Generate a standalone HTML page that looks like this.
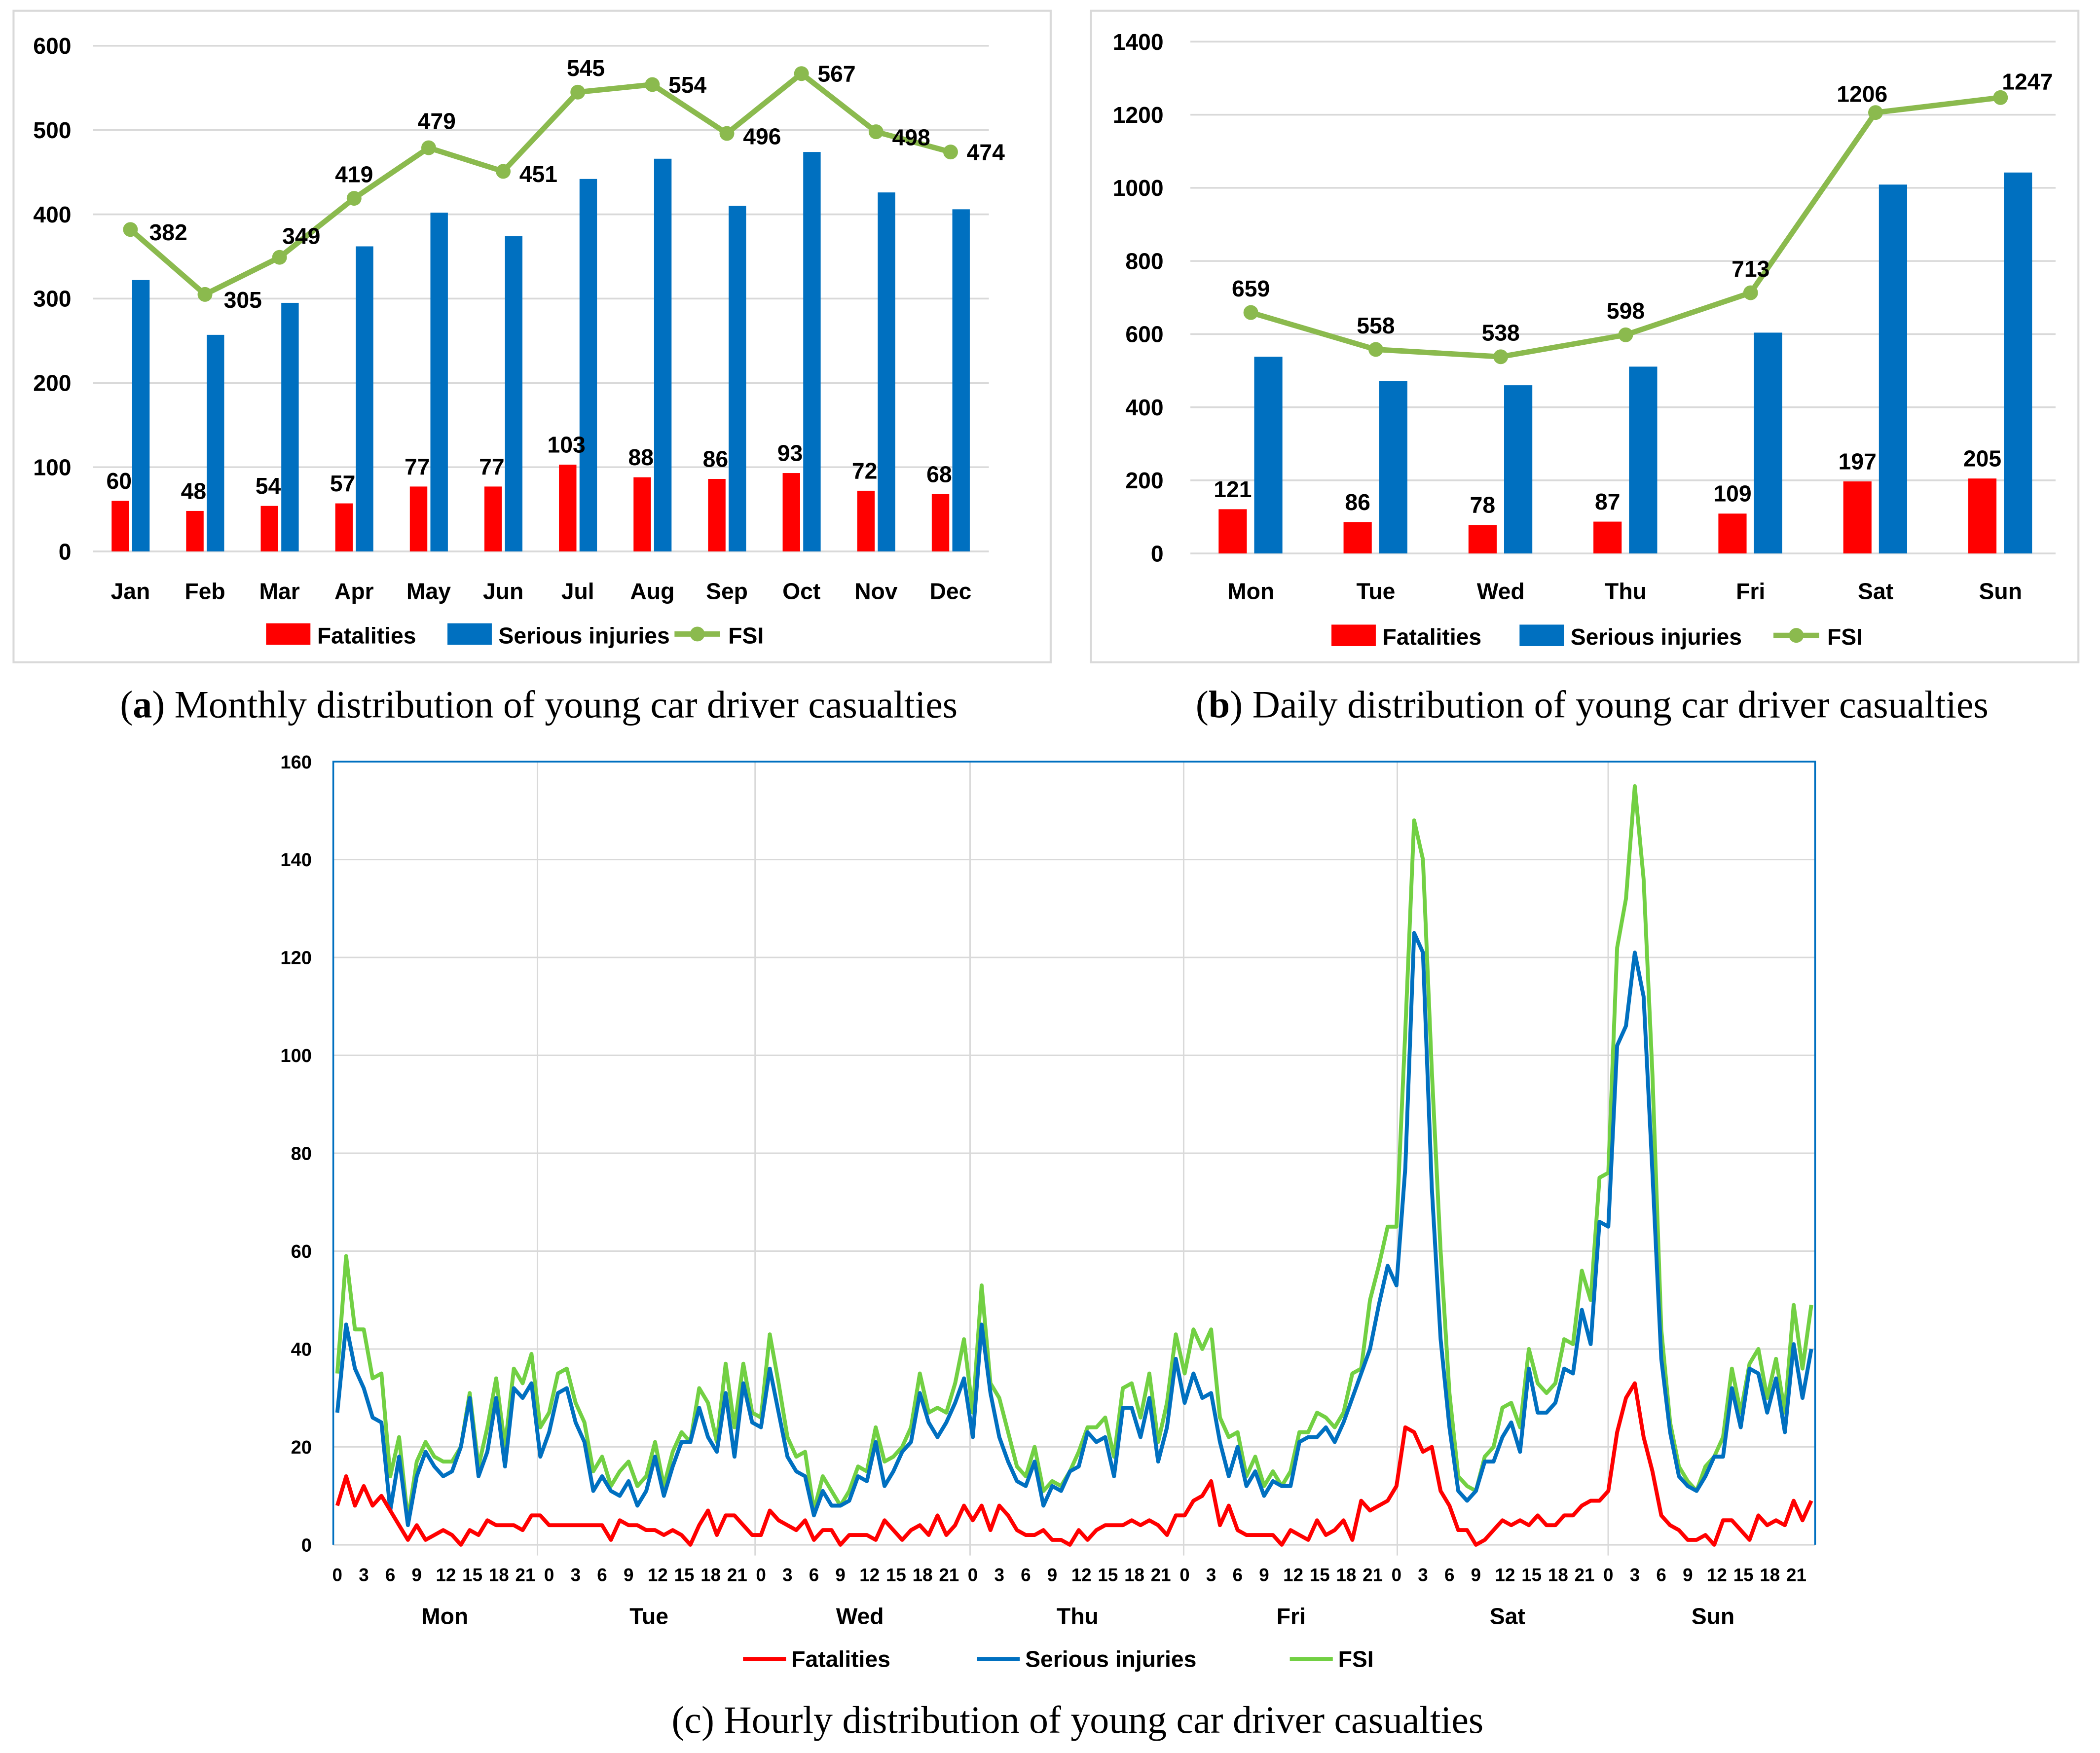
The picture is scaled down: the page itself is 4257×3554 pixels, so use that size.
<!DOCTYPE html>
<html><head><meta charset="utf-8">
<style>
html,body{margin:0;padding:0;background:#fff;}
svg{display:block;}
text{font-family:"Liberation Sans",sans-serif;font-weight:bold;fill:#000;}
.cap{font-family:"Liberation Serif",serif;font-weight:normal;font-size:28.6px;}
</style></head>
<body>
<svg id="root" width="4257" height="3554" viewBox="0 0 1563 1305" xmlns="http://www.w3.org/2000/svg">
<rect x="0" y="0" width="1563" height="1305" fill="#fff"/>
<rect x="10" y="8" width="772" height="485" fill="none" stroke="#d9d9d9" stroke-width="1.5"/>
<rect x="812" y="8" width="735" height="485" fill="none" stroke="#d9d9d9" stroke-width="1.5"/>
<g id="ga"></g>
<g id="gb"></g>
<g id="gc"></g>
<text class="cap" x="401" y="534" text-anchor="middle">(<tspan font-weight="bold">a</tspan>) Monthly distribution of young car driver casualties</text>
<text class="cap" x="1185" y="534" text-anchor="middle">(<tspan font-weight="bold">b</tspan>) Daily distribution of young car driver casualties</text>
<text class="cap" x="802" y="1290" text-anchor="middle">(c) Hourly distribution of young car driver casualties</text>
</svg>
<script>
// ---- Panel a data ----
const monthCats = ["Jan","Feb","Mar","Apr","May","Jun","Jul","Aug","Sep","Oct","Nov","Dec"];
const monthFatal = [60,48,54,57,77,77,103,88,86,93,72,68];
const monthSerious = [322,257,295,362,402,374,442,466,410,474,426,406];
const monthFSI = [382,305,349,419,479,451,545,554,496,567,498,474];
const monthTicks = [0,100,200,300,400,500,600];
// ---- Panel b data ----
const dayCats = ["Mon","Tue","Wed","Thu","Fri","Sat","Sun"];
const dayFatal = [121,86,78,87,109,197,205];
const daySerious = [538,472,460,511,604,1009,1042];
const dayFSI = [659,558,538,598,713,1206,1247];
const dayTicks = [0,200,400,600,800,1000,1200,1400];
// ---- Panel c data ----
const hourTicks = [0,20,40,60,80,100,120,140,160];
const hourLabels = [0,3,6,9,12,15,18,21];
const hourFatal = [8,14,8,12,8,10,7,4,1,4,1,2,3,2,0,3,2,5,4,4,4,3,6,6,4,4,4,4,4,4,4,1,5,4,4,3,3,2,3,2,0,4,7,2,6,6,4,2,2,7,
5,4,3,5,1,3,3,0,2,2,2,1,5,3,1,3,4,2,6,2,4,8,5,8,3,8,6,3,2,2,3,1,1,0,3,1,3,4,4,4,5,4,5,4,2,
6,6,9,10,13,4,8,3,2,2,2,2,0,3,2,1,5,2,3,5,1,9,7,8,9,12,24,23,19,20,11,8,3,3,0,1,3,5,4,5,4,6,4,4,6,6,8,9,9,11,23,
30,33,22,15,6,4,3,1,1,2,0,5,5,3,1,6,4,5,4,9,5,9];
const hourSerious = [27,45,36,32,26,25,7,18,4,14,19,16,14,15,20,30,14,19,30,16,32,30,33,18,23,31,32,25,21,11,14,11,10,13,8,11,18,10,16,21,21,28,22,19,31,18,33,25,24,36,
27,18,15,14,6,11,8,8,9,14,13,21,12,15,19,21,31,25,22,25,29,34,22,45,31,22,17,13,12,17,8,12,11,15,16,23,21,22,14,28,28,22,30,17,24,
38,29,35,30,31,21,14,20,12,15,10,13,12,12,21,22,22,24,21,25,30,35,40,49,57,53,77,125,121,73,42,24,11,9,11,17,17,22,25,19,36,27,27,29,36,35,48,41,66,65,102,
106,121,112,76,38,23,14,12,11,14,18,18,32,24,36,35,27,34,23,41,30,40];
const hourFSI = [35,59,44,44,34,35,14,22,5,17,21,18,17,17,20,31,16,24,34,20,36,33,39,24,27,35,36,29,25,15,18,12,15,17,12,14,21,12,19,23,21,32,29,21,37,24,37,27,26,43,
33,22,18,19,7,14,11,8,11,16,15,24,17,18,20,24,35,27,28,27,33,42,27,53,33,30,23,16,14,20,11,13,12,15,19,24,24,26,18,32,33,26,35,21,29,
43,35,44,40,44,26,22,23,14,18,12,15,12,15,23,23,27,26,24,27,35,36,50,57,65,65,105,148,140,97,60,31,14,12,11,18,20,28,29,24,40,33,31,33,42,41,56,50,75,76,122,
132,155,136,96,44,25,16,13,11,16,18,22,36,27,37,40,30,38,27,49,36,49];

const NS="http://www.w3.org/2000/svg";
function mk(parent,tag,attrs,txt){const e=document.createElementNS(NS,tag);for(const k in attrs)e.setAttribute(k,attrs[k]);if(txt!==undefined)e.textContent=txt;parent.appendChild(e);return e;}
const RED="#ff0000",BLUE="#0070c0",GREEN_AB="#8bba4e",GREEN_C="#72d043",GRID="#d9d9d9";

function barPanel(g,cfg){
  const y=v=>cfg.y0-(v-0)/cfg.max*(cfg.y0-cfg.yTop);
  const x=i=>cfg.x0+i*cfg.step;
  cfg.ticks.forEach(t=>{
    const ln=mk(g,"line",{x1:cfg.gl,x2:cfg.gr,y1:y(t),y2:y(t),stroke:GRID,"stroke-width":1.3});
    
    
    const tx=mk(g,"text",{x:cfg.tickX,y:y(t)+6,"text-anchor":"end","font-size":cfg.fs},t);
    
    
  });
  cfg.cats.forEach((c,i)=>{
    const cx=x(i);
    const r=mk(g,"rect",{x:cx+cfg.rOff-cfg.bw/2,y:y(cfg.fatal[i]),width:cfg.bw,height:cfg.y0-y(cfg.fatal[i]),fill:RED});
    
    
    const b=mk(g,"rect",{x:cx+cfg.bOff-cfg.bw/2,y:y(cfg.serious[i]),width:cfg.bw,height:cfg.y0-y(cfg.serious[i]),fill:BLUE});
    
    
    const fl=mk(g,"text",{x:cx+cfg.rOff+cfg.fOff,y:y(cfg.fatal[i])-9,"text-anchor":"middle","font-size":cfg.fs},cfg.fatal[i]);
    
    
    const cl=mk(g,"text",{x:cx,y:cfg.catY,"text-anchor":"middle","font-size":cfg.fs},c);
    
    
  });
  const pts=cfg.fsi.map((v,i)=>x(i)+","+y(v)).join(" ");
  const pl=mk(g,"polyline",{points:pts,fill:"none",stroke:GREEN_AB,"stroke-width":4,"stroke-linejoin":"round"});
  
  
  cfg.fsi.forEach((v,i)=>{
    const c=mk(g,"circle",{cx:x(i),cy:y(v),r:5.5,fill:GREEN_AB});
    
    
    const p=cfg.fsiPos(i);
    const t=mk(g,"text",{x:x(i)+p[0],y:y(v)+p[1],"text-anchor":p[2],"font-size":cfg.fs},v);
    
    
  });
  const L=cfg.leg;
  const l1=mk(g,"rect",{x:L[0],y:L[3]-8,width:33,height:16,fill:RED});
  
  
  const t1=mk(g,"text",{x:L[0]+38,y:L[3]+7,"font-size":cfg.fs},"Fatalities");
  
  
  const l2=mk(g,"rect",{x:L[1],y:L[3]-8,width:33,height:16,fill:BLUE});
  
  
  const t2=mk(g,"text",{x:L[1]+38,y:L[3]+7,"font-size":cfg.fs},"Serious injuries");
  
  
  const l3=mk(g,"line",{x1:L[2],x2:L[2]+34,y1:L[3],y2:L[3],stroke:GREEN_AB,"stroke-width":4});
  
  
  const l3c=mk(g,"circle",{cx:L[2]+17,cy:L[3],r:5.5,fill:GREEN_AB});
  
  
  const t3=mk(g,"text",{x:L[2]+40,y:L[3]+7,"font-size":cfg.fs},"FSI");
  
  
}

// label placement per month: [dx,dy,anchor]
const monthLabelPos=[[14,8,"start"],[14,10,"start"],[2,-10,"start"],[0,-12,"middle"],[6,-14,"middle"],[12,8,"start"],[6,-12,"middle"],[12,6,"start"],[12,8,"start"],[12,6,"start"],[12,10,"start"],[12,6,"start"]];
barPanel(document.getElementById("ga"),{
  cats:monthCats,fatal:monthFatal,serious:monthSerious,fsi:monthFSI,ticks:monthTicks,
  max:600,y0:410.5,yTop:34.1,x0:97,step:55.5,gl:69,gr:736,tickX:53,fs:17,
  bw:13,rOff:-7.5,bOff:7.8,fOff:-1,catY:446,
  fsiPos:i=>monthLabelPos[i],
  leg:[198,333,502,472]
});
barPanel(document.getElementById("gb"),{
  cats:dayCats,fatal:dayFatal,serious:daySerious,fsi:dayFSI,ticks:dayTicks,
  max:1400,y0:412,yTop:31,x0:931,step:93,gl:886,gr:1530,tickX:866,fs:17,
  bw:21,rOff:-13.5,bOff:13,fOff:0,catY:446,
  fsiPos:i=>(i==6?[20,-6,"middle"]:(i==5?[-10,-8,"middle"]:[0,-12,"middle"])),
  leg:[991,1131,1320,473]
});

// ---- Panel c ----
(function(){
  const g=document.getElementById("gc");
  const X0=251,XS=6.57,Y0=1150,YT=567,MAX=160;
  const y=v=>Y0-v/MAX*(Y0-YT);
  const x=i=>X0+i*XS;
  hourTicks.forEach(t=>{
    if(t>0&&t<160){
      const ln=mk(g,"line",{x1:248,x2:1351,y1:y(t),y2:y(t),stroke:GRID,"stroke-width":1.1});
      
      
    }
    const tx=mk(g,"text",{x:232,y:y(t)+5,"text-anchor":"end","font-size":14},t);
    
    
  });
  [400,562,722,881,1040,1197].forEach(vx=>{
    const ln=mk(g,"line",{x1:vx,x2:vx,y1:567,y2:1158,stroke:GRID,"stroke-width":1.1});
    
    
  });
  const bl=mk(g,"line",{x1:248,x2:1351,y1:1150,y2:1150,stroke:GRID,"stroke-width":1.3});
  
  
  const fr=mk(g,"polyline",{points:"248,1150 248,567 1351,567 1351,1150",fill:"none",stroke:BLUE,"stroke-width":1.3});
  
  
  const series=[[hourFSI,GREEN_C,"fsi-line"],[hourSerious,BLUE,"serious-injuries-line"],[hourFatal,RED,"fatalities-line"]];
  series.forEach(s=>{
    const pts=s[0].map((v,i)=>x(i).toFixed(2)+","+y(v).toFixed(2)).join(" ");
    const pl=mk(g,"polyline",{points:pts,fill:"none",stroke:s[1],"stroke-width":2.9,"stroke-linejoin":"round"});
    
    
  });
  const dayX=[331,483,640,802,961,1122,1275];
  dayCats.forEach((d,di)=>{
    hourLabels.forEach(h=>{
      const t=mk(g,"text",{x:x(di*24+h)+(h>=12?2:0),y:1177,"text-anchor":"middle","font-size":13.5},h);
      
      
    });
    const t=mk(g,"text",{x:dayX[di],y:1209,"text-anchor":"middle","font-size":17},d);
    
    
  });
  const leg=[[553,RED,"Fatalities","legend-fatalities"],[727,BLUE,"Serious injuries","legend-serious"],[960,GREEN_C,"FSI","legend-fsi"]];
  leg.forEach(l=>{
    const ln=mk(g,"line",{x1:l[0],x2:l[0]+32,y1:1235,y2:1235,stroke:l[1],"stroke-width":3});
    
    
    const t=mk(g,"text",{x:l[0]+36,y:1241,"font-size":17},l[2]);
    
    
  });
})();
</script>
</body></html>
